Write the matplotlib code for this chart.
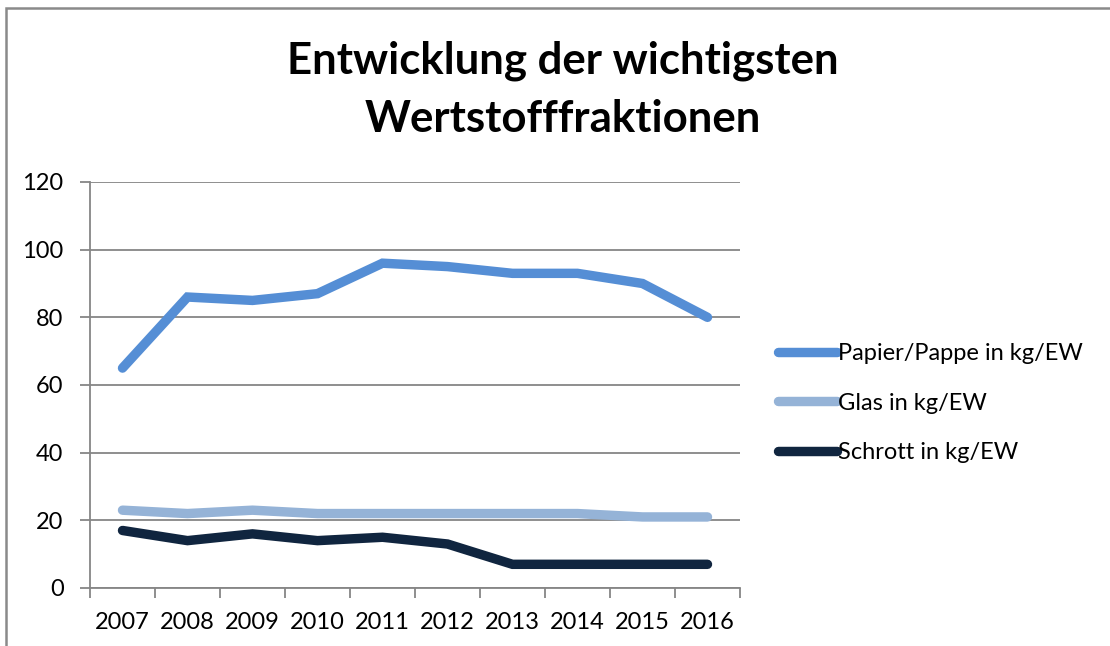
import matplotlib
matplotlib.use("Agg")
import matplotlib.pyplot as plt
from matplotlib.patches import Rectangle

plt.rcParams['font.family'] = ['Lato', 'DejaVu Sans']

years = ["2007", "2008", "2009", "2010", "2011", "2012", "2013", "2014", "2015", "2016"]
papier = [65, 86, 85, 87, 96, 95, 93, 93, 90, 80]
glas = [23, 22, 23, 22, 22, 22, 22, 22, 21, 21]
schrott = [17, 14, 16, 14, 15, 13, 7, 7, 7, 7]
series_names = ["Papier/Pappe in kg/EW", "Glas in kg/EW", "Schrott in kg/EW"]
colors = ["#558ED5", "#95B3D7", "#10253F"]
yticks = [0, 20, 40, 60, 80, 100, 120]

W, H = 1110, 646
fig = plt.figure(figsize=(W / 100, H / 100), dpi=100)
ax = fig.add_axes([90 / W, 1 - 588 / H, 650 / W, (588 - 182) / H])

x = list(range(len(years)))
for vals, name, c in zip([papier, glas, schrott], series_names, colors):
    ax.plot(x, vals, color=c, lw=6.8, solid_capstyle='round', solid_joinstyle='miter', label=name, zorder=3)

grid_c = "#868686"
ax.set_xlim(-0.5, len(years) - 0.5)
ax.set_ylim(0, 120)
ax.set_yticks(yticks)
ax.set_yticklabels([str(v) for v in yticks], fontsize=17)
ax.yaxis.grid(True, color=grid_c, lw=1.3)
ax.set_axisbelow(True)
ax.set_xticks(x)
ax.set_xticklabels(years, fontsize=17)
ax.set_xticks([i - 0.5 for i in range(len(years) + 1)], minor=True)
ax.tick_params(axis='x', which='major', length=0, pad=17)
ax.tick_params(axis='x', which='minor', length=7, width=1.3, color=grid_c, direction='out')
ax.tick_params(axis='y', length=7, width=1.3, color=grid_c, direction='out', pad=12)
for s in ['top', 'right']:
    ax.spines[s].set_visible(False)
for s in ['left', 'bottom']:
    ax.spines[s].set_color(grid_c)
    ax.spines[s].set_linewidth(1.3)

fig.text(563 / W, 1 - 90 / H, "Entwicklung der wichtigsten\nWertstofffraktionen",
         ha='center', va='center', multialignment='center', fontsize=31.5, fontweight='bold', linespacing=1.55)

leg = ax.legend(loc='center left', bbox_to_anchor=(778 / W, 1 - 403 / H), bbox_transform=fig.transFigure,
                frameon=False, fontsize=17, handlelength=2.5, handletextpad=0.05, labelspacing=1.2,
                borderpad=0, borderaxespad=0)
for t in leg.get_texts():
    t.set_color('black')

fig.patches.append(Rectangle((6 / W, -0.1), 1.2, 1 - 8 / H + 0.1, transform=fig.transFigure,
                             fill=False, edgecolor='#8a8a8a', lw=1.8))

fig.savefig("out.png", dpi=100)
